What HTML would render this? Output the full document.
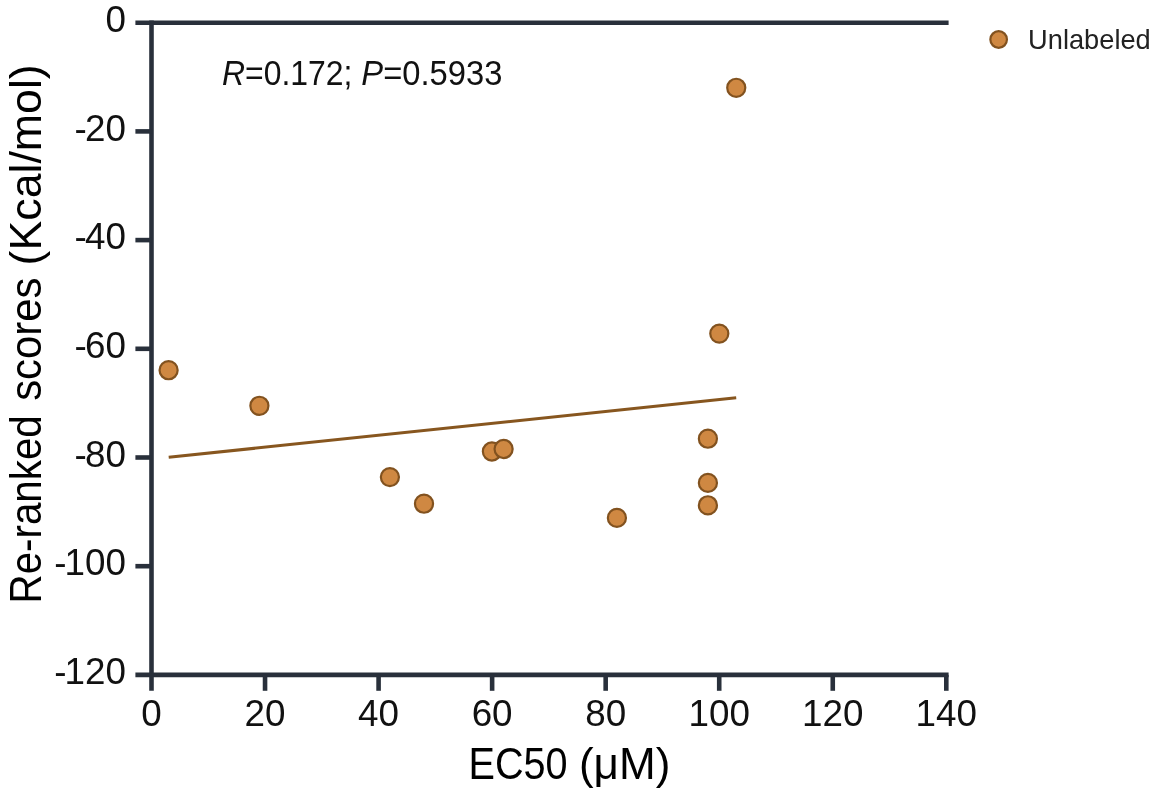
<!DOCTYPE html>
<html lang="en">
<head>
<meta charset="utf-8">
<title>EC50 vs Re-ranked scores</title>
<style>
html,body{margin:0;padding:0;background:#fff;}
body{width:1152px;height:794px;overflow:hidden;}
svg{display:block;}
text{font-family:"Liberation Sans",sans-serif;}
.tick{font-size:36.8px;fill:#111;}
.title{font-size:44.2px;fill:#000;}
.ann{font-size:34.2px;fill:#111;}
.leg{font-size:27.4px;fill:#222;}
</style>
</head>
<body>
<svg width="1152" height="794" viewBox="0 0 1152 794">
<rect x="0" y="0" width="1152" height="794" fill="#ffffff"/>
<g stroke="#29303b" stroke-width="4.6" fill="none" stroke-linecap="butt">
<line x1="135.4" y1="22.7" x2="948.6" y2="22.7"/>
<line x1="135.4" y1="674.9" x2="948.6" y2="674.9"/>
<line x1="151.5" y1="20.4" x2="151.5" y2="690.8"/>
<line x1="135.4" y1="131.40" x2="151.5" y2="131.40"/>
<line x1="135.4" y1="240.10" x2="151.5" y2="240.10"/>
<line x1="135.4" y1="348.80" x2="151.5" y2="348.80"/>
<line x1="135.4" y1="457.50" x2="151.5" y2="457.50"/>
<line x1="135.4" y1="566.20" x2="151.5" y2="566.20"/>
<line x1="265.04" y1="674.9" x2="265.04" y2="690.8"/>
<line x1="378.59" y1="674.9" x2="378.59" y2="690.8"/>
<line x1="492.13" y1="674.9" x2="492.13" y2="690.8"/>
<line x1="605.67" y1="674.9" x2="605.67" y2="690.8"/>
<line x1="719.21" y1="674.9" x2="719.21" y2="690.8"/>
<line x1="832.76" y1="674.9" x2="832.76" y2="690.8"/>
<line x1="946.30" y1="674.9" x2="946.30" y2="690.8"/>
</g>
<g class="tick" text-anchor="end">
<text x="125.9" y="31.80">0</text>
<text x="125.9" y="140.50">-<tspan dx="-1.9">20</tspan></text>
<text x="125.9" y="249.20">-<tspan dx="-1.9">40</tspan></text>
<text x="125.9" y="357.90">-<tspan dx="-1.9">60</tspan></text>
<text x="125.9" y="466.60">-<tspan dx="-1.9">80</tspan></text>
<text x="125.9" y="575.30">-<tspan dx="-1.9">100</tspan></text>
<text x="125.9" y="684.00">-<tspan dx="-1.9">120</tspan></text>
</g>
<g class="tick" text-anchor="middle">
<text x="151.50" y="726">0</text>
<text x="265.04" y="726">20</text>
<text x="378.59" y="726">40</text>
<text x="492.13" y="726">60</text>
<text x="605.67" y="726">80</text>
<text x="719.21" y="726">100</text>
<text x="832.76" y="726">120</text>
<text x="946.30" y="726">140</text>
</g>
<text class="title" y="778.7"><tspan x="468.53" textLength="99.14" lengthAdjust="spacingAndGlyphs">EC50</tspan> <tspan x="578.90" textLength="91.41" lengthAdjust="spacingAndGlyphs">(μM)</tspan></text>
<text class="title" transform="translate(40.6 600) rotate(-90)"><tspan x="-3.41" textLength="188.12" lengthAdjust="spacingAndGlyphs">Re-ranked</tspan> <tspan x="199.18" textLength="123.13" lengthAdjust="spacingAndGlyphs">scores</tspan> <tspan x="334.61" textLength="201.13" lengthAdjust="spacingAndGlyphs">(Kcal/mol)</tspan></text>
<text class="ann" y="84.8"><tspan x="222.04" textLength="130.40" lengthAdjust="spacingAndGlyphs"><tspan font-style="italic">R</tspan>=0.172;</tspan> <tspan x="361.36" textLength="141.04" lengthAdjust="spacingAndGlyphs"><tspan font-style="italic">P</tspan>=0.5933</tspan></text>
<line x1="168.7" y1="457.3" x2="736.2" y2="397.7" stroke="#87561f" stroke-width="3"/>
<g fill="#cf8842" stroke="#82521f" stroke-width="2.2">
<circle cx="168.6" cy="370.2" r="9.05"/>
<circle cx="259.4" cy="405.8" r="9.05"/>
<circle cx="389.9" cy="477.1" r="9.05"/>
<circle cx="424.0" cy="503.7" r="9.05"/>
<circle cx="491.9" cy="451.5" r="9.05"/>
<circle cx="503.6" cy="449.0" r="9.05"/>
<circle cx="616.9" cy="517.9" r="9.05"/>
<circle cx="707.9" cy="438.7" r="9.05"/>
<circle cx="707.9" cy="482.9" r="9.05"/>
<circle cx="707.9" cy="505.3" r="9.05"/>
<circle cx="719.3" cy="333.6" r="9.05"/>
<circle cx="736.25" cy="87.8" r="9.05"/>
<circle cx="998.65" cy="39.5" r="8.3"/>
</g>
<text class="leg" y="48.6"><tspan x="1028.10" textLength="122.63" lengthAdjust="spacingAndGlyphs">Unlabeled</tspan></text>
</svg>
</body>
</html>
